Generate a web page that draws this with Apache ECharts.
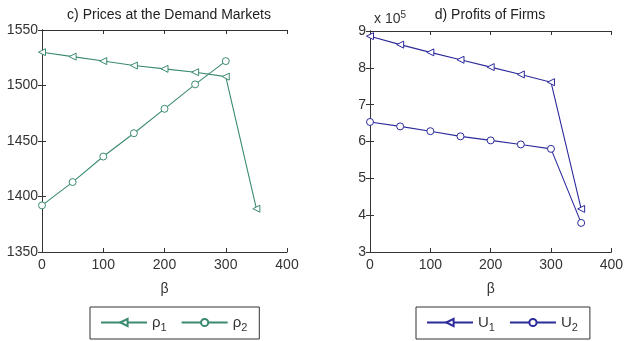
<!DOCTYPE html>
<html><head><meta charset="utf-8">
<script src="https://cdn.jsdelivr.net/npm/echarts@6/dist/echarts.min.js"></script>
<style>html,body{margin:0;padding:0;background:#fff}#c{width:626px;height:341px}</style>
</head><body><div id="c"></div>
<script>
const beta = [0, 50, 100, 150, 200, 250, 300, 350];
const p1 = [1530, 1526, 1522, 1518, 1515, 1512, 1508, 1389];
const p2 = [1392, 1413, 1436, 1457, 1479, 1501, 1522];
const U1 = [8.86, 8.63, 8.42, 8.22, 8.02, 7.82, 7.61, 4.17];
const U2 = [6.53, 6.41, 6.28, 6.14, 6.03, 5.92, 5.80, 3.79];
const leftTitle = 'c) Prices at the Demand Markets';
const rightTitle = 'd) Profits of Firms';

const green = '#3b8a72', blue = '#2b2b9c', axisC = '#333';
const font = 'Liberation Sans, Arial, sans-serif';
function pairs(xs, ys){ return ys.map((v,i)=>[xs[i], v]); }
const lab = {color:'#333', fontSize:14, fontFamily:font};
function xAx(grid, pos, show){
  return {type:'value', gridIndex:grid, position:pos, min:0, max:400, interval:100,
    axisLine:{show:true, lineStyle:{color:axisC}}, axisTick:{show:true, inside:true, length:4, lineStyle:{color:axisC}},
    axisLabel:Object.assign({show:show, margin:6, formatter:v=>String(v)}, lab), splitLine:{show:false},
    name: show ? 'β' : '', nameLocation:'middle', nameGap:30, nameTextStyle:Object.assign({}, lab)};
}
function yAx(grid, pos, show, min, max, iv){
  return {type:'value', gridIndex:grid, position:pos, min:min, max:max, interval:iv,
    axisLine:{show:true, lineStyle:{color:axisC}}, axisTick:{show:true, inside:true, length:4, lineStyle:{color:axisC}},
    axisLabel:Object.assign({show:show, margin:4, formatter:v=>String(v)}, lab), splitLine:{show:false}};
}
const chart = echarts.init(document.getElementById('c'));
chart.setOption({
  animation:false,
  backgroundColor:'#fff',
  title:[
    {text:leftTitle, left:164, top:3, textAlign:'center', textStyle:{fontSize:14, fontWeight:'normal', color:'#222', fontFamily:font}},
    {text:rightTitle, left:485, top:3, textAlign:'center', textStyle:{fontSize:14, fontWeight:'normal', color:'#222', fontFamily:font}},
    {text:'x 10{s|5}', left:369, top:5, textStyle:{fontSize:14, fontWeight:'normal', color:'#333', fontFamily:font, rich:{s:{fontSize:10, verticalAlign:'top', padding:[0,0,8,0], color:'#333'}}}}
  ],
  grid:[
    {left:42, top:30, width:245, height:222, show:false},
    {left:370, top:31, width:245, height:221, show:false}
  ],
  xAxis:[xAx(0,'bottom',true), xAx(0,'top',false), xAx(1,'bottom',true), xAx(1,'top',false)],
  yAxis:[yAx(0,'left',true,1350,1550,50), yAx(0,'right',false,1350,1550,50),
         yAx(1,'left',true,3,9,1), yAx(1,'right',false,3,9,1)],
  legend:[
    {data:['p1','p2'], left:90, top:307, width:150, height:34, itemWidth:46, itemHeight:9, itemGap:14,
     borderColor:'#333', borderWidth:1, padding:[8,12,6,10],
     formatter:n=>'{a|ρ}{s|'+n.slice(1)+'}', textStyle:{rich:{a:{fontSize:15,color:'#333',fontFamily:font}, s:{fontSize:11, color:'#333', padding:[10,0,0,0], fontFamily:font}}}},
    {data:['U1','U2'], left:416, top:307, width:153, height:34, itemWidth:46, itemHeight:9, itemGap:14,
     borderColor:'#333', borderWidth:1, padding:[8,12,6,10],
     formatter:n=>'{a|U}{s|'+n.slice(1)+'}', textStyle:{rich:{a:{fontSize:15,color:'#333',fontFamily:font}, s:{fontSize:11, color:'#333', padding:[10,0,0,0], fontFamily:font}}}}
  ],
  series:[
    {name:'p1', type:'line', xAxisIndex:0, yAxisIndex:0, data:pairs(beta,p1), symbol:'triangle', symbolRotate:90, symbolSize:7,
     itemStyle:{color:'#fff', borderColor:green, borderWidth:1}, lineStyle:{color:green, width:1.1}},
    {name:'p2', type:'line', xAxisIndex:0, yAxisIndex:0, data:pairs(beta,p2), symbol:'circle', symbolSize:7,
     itemStyle:{color:'#fff', borderColor:green, borderWidth:1}, lineStyle:{color:green, width:1.1}},
    {name:'U1', type:'line', xAxisIndex:2, yAxisIndex:2, data:pairs(beta,U1), symbol:'triangle', symbolRotate:90, symbolSize:7,
     itemStyle:{color:'#fff', borderColor:blue, borderWidth:1}, lineStyle:{color:blue, width:1.1}},
    {name:'U2', type:'line', xAxisIndex:2, yAxisIndex:2, data:pairs(beta,U2), symbol:'circle', symbolSize:7,
     itemStyle:{color:'#fff', borderColor:blue, borderWidth:1}, lineStyle:{color:blue, width:1.1}}
  ]
});
</script></body></html>
